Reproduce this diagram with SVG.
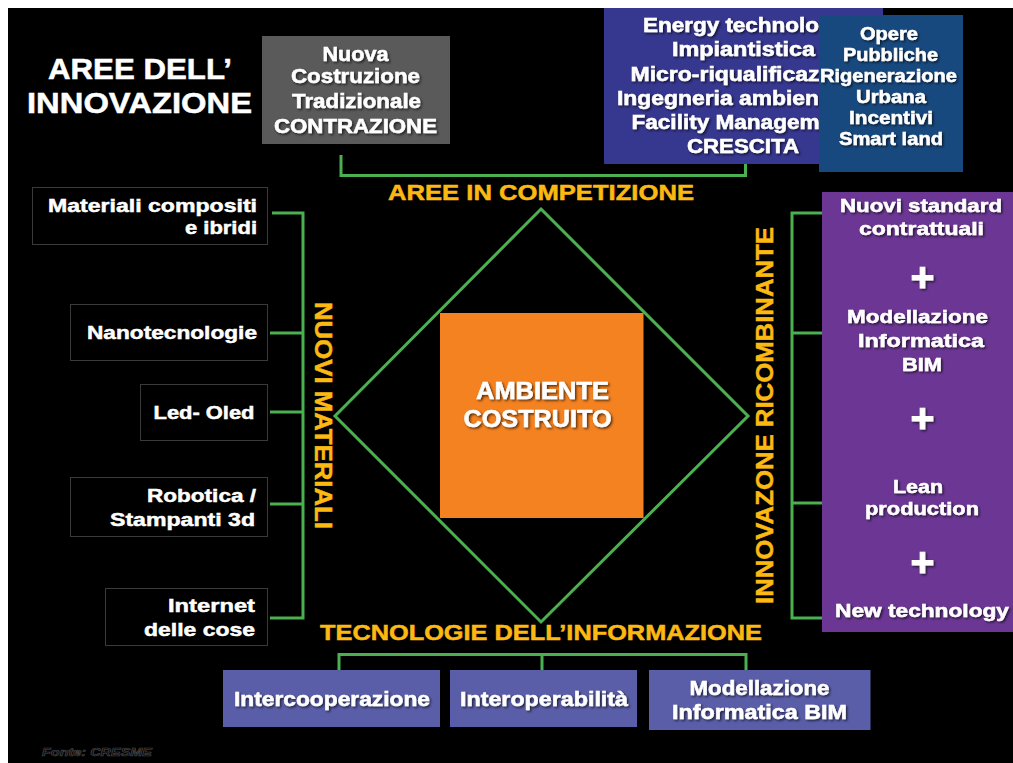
<svg xmlns="http://www.w3.org/2000/svg" width="1013" height="763" viewBox="0 0 1013 763">
<defs>
<filter id="sh" x="-10%" y="-30%" width="120%" height="160%">
<feDropShadow dx="1.5" dy="1.5" stdDeviation="0.8" flood-color="#000" flood-opacity="0.65"/>
</filter>
<clipPath id="clipE"><rect x="604" y="8" width="215" height="156"/></clipPath>
</defs>
<style>
text{font-family:"Liberation Sans",Arial,sans-serif;font-weight:bold;}
.w{fill:#ffffff;stroke:#ffffff;stroke-width:0.5;}
.ws{fill:#ffffff;stroke:#ffffff;stroke-width:0.5;filter:url(#sh);}
.y{fill:#fbb912;stroke:#fbb912;stroke-width:0.5;}
.c{text-anchor:middle;}
.e{text-anchor:end;}
.f21{font-size:21px;}
.f20{font-size:20px;}
.f19{font-size:19px;}
.f23{font-size:23px;}
.lbox{fill:#000;stroke:#3a3a3a;stroke-width:1;}
.conn{fill:none;stroke:#4bb04f;stroke-width:3;stroke-linejoin:miter;}
.plus{font-size:40px;stroke-width:1;}
</style>
<rect x="0" y="0" width="1013" height="763" fill="#ffffff"/>
<rect x="8" y="8" width="1005" height="755" fill="#000000"/>

<g id="title">
<text class="w c" x="140" y="79" font-size="29" textLength="184" lengthAdjust="spacingAndGlyphs">AREE DELL’</text>
<text class="w c" x="139.5" y="113" font-size="29" textLength="225" lengthAdjust="spacingAndGlyphs">INNOVAZIONE</text>
</g>

<g id="connectors">
<polyline class="conn" points="341,155 341,175.5 745.5,175.5 745.5,164"/>
<polygon class="conn" points="541,209 748,416 541,622 335,416" stroke-width="2.5"/>
<polyline class="conn" points="272,213 303,213 303,618 270,618"/>
<line class="conn" x1="270" y1="333" x2="303" y2="333"/>
<line class="conn" x1="270" y1="412" x2="303" y2="412"/>
<line class="conn" x1="270" y1="504" x2="303" y2="504"/>
<polyline class="conn" points="826,213 792,213 792,618 826,618"/>
<line class="conn" x1="792" y1="333" x2="826" y2="333"/>
<line class="conn" x1="792" y1="503" x2="826" y2="503"/>
<polyline class="conn" points="339,670 339,654.5 746,654.5 746,670"/>
<line class="conn" x1="542" y1="654.5" x2="542" y2="670"/>
</g>

<g id="nuova-costruzione">
<rect x="262" y="36" width="188" height="108" fill="#5a5a5a"/>
<text class="ws c f21" x="355.5" y="60.5" textLength="66" lengthAdjust="spacingAndGlyphs">Nuova</text>
<text class="ws c f21" x="355.5" y="83" textLength="129" lengthAdjust="spacingAndGlyphs">Costruzione</text>
<text class="ws c f21" x="356.5" y="107.5" textLength="129" lengthAdjust="spacingAndGlyphs">Tradizionale</text>
<text class="ws c f21" x="355.5" y="132.5" textLength="163" lengthAdjust="spacingAndGlyphs">CONTRAZIONE</text>
</g>

<g id="crescita">
<rect x="604" y="8" width="279" height="156" fill="#36378f"/>
<g clip-path="url(#clipE)">
<text class="ws f20" x="643" y="32" textLength="176" lengthAdjust="spacingAndGlyphs">Energy technolo</text>
<text class="ws f20" x="672" y="56" textLength="143" lengthAdjust="spacingAndGlyphs">Impiantistica</text>
<text class="ws f20" x="630.5" y="80.5" textLength="189" lengthAdjust="spacingAndGlyphs">Micro-riqualificaz</text>
<text class="ws f20" x="617" y="104.5" textLength="202" lengthAdjust="spacingAndGlyphs">Ingegneria ambien</text>
<text class="ws f20" x="631.5" y="128.5" textLength="188" lengthAdjust="spacingAndGlyphs">Facility Managem</text>
</g>
<text class="ws c f20" x="743" y="153" textLength="112" lengthAdjust="spacingAndGlyphs">CRESCITA</text>
</g>

<g id="opere-pubbliche">
<rect x="819" y="15" width="144" height="157" fill="#18497e"/>
<text class="ws c f19" x="889" y="39.5" textLength="58" lengthAdjust="spacingAndGlyphs">Opere</text>
<text class="ws c f19" x="890.5" y="60.5" textLength="95" lengthAdjust="spacingAndGlyphs">Pubbliche</text>
<text class="ws c f19" x="888.5" y="81.5" textLength="137" lengthAdjust="spacingAndGlyphs">Rigenerazione</text>
<text class="ws c f19" x="891" y="103" textLength="70" lengthAdjust="spacingAndGlyphs">Urbana</text>
<text class="ws c f19" x="891" y="124" textLength="84" lengthAdjust="spacingAndGlyphs">Incentivi</text>
<text class="ws c f19" x="891" y="145" textLength="104" lengthAdjust="spacingAndGlyphs">Smart land</text>
</g>

<g id="aree-in-competizione">
<text class="y c" x="541" y="200" font-size="22" textLength="306" lengthAdjust="spacingAndGlyphs">AREE IN COMPETIZIONE</text>
</g>

<g id="materiali-compositi">
<rect class="lbox" x="32.5" y="187.5" width="235" height="57"/>
<text class="w e f19" x="257" y="212" textLength="209" lengthAdjust="spacingAndGlyphs">Materiali compositi</text>
<text class="w e f19" x="257" y="234" textLength="72" lengthAdjust="spacingAndGlyphs">e ibridi</text>
</g>
<g id="nanotecnologie">
<rect class="lbox" x="70.5" y="304.5" width="197" height="56"/>
<text class="w e f19" x="257" y="338.5" textLength="170" lengthAdjust="spacingAndGlyphs">Nanotecnologie</text>
</g>
<g id="led-oled">
<rect class="lbox" x="140.5" y="384.5" width="127" height="56"/>
<text class="w e f19" x="254.5" y="418.5" textLength="101" lengthAdjust="spacingAndGlyphs">Led- Oled</text>
</g>
<g id="robotica">
<rect class="lbox" x="70.5" y="477.5" width="197" height="59"/>
<text class="w e f19" x="256" y="502" textLength="109" lengthAdjust="spacingAndGlyphs">Robotica /</text>
<text class="w e f19" x="255" y="525.5" textLength="145" lengthAdjust="spacingAndGlyphs">Stampanti 3d</text>
</g>
<g id="internet">
<rect class="lbox" x="105.5" y="588.5" width="162" height="57"/>
<text class="w e f19" x="255" y="612" textLength="87" lengthAdjust="spacingAndGlyphs">Internet</text>
<text class="w e f19" x="255" y="636" textLength="111" lengthAdjust="spacingAndGlyphs">delle cose</text>
</g>

<g id="nuovi-materiali">
<text class="y c" transform="translate(315,415.5) rotate(90)" x="0" y="0" font-size="23" textLength="227" lengthAdjust="spacingAndGlyphs">NUOVI MATERIALI</text>
</g>

<g id="ambiente-costruito">
<rect x="440" y="313" width="203.5" height="205" fill="#f58220"/>
<text class="ws c f23" x="542.5" y="399" textLength="133" lengthAdjust="spacingAndGlyphs">AMBIENTE</text>
<text class="ws c f23" x="537.5" y="427" textLength="148" lengthAdjust="spacingAndGlyphs">COSTRUITO</text>
</g>

<g id="innovazione-ricombinante">
<text class="y c" transform="translate(773,415.5) rotate(-90)" x="0" y="0" font-size="24" textLength="377" lengthAdjust="spacingAndGlyphs">INNOVAZONE RICOMBINANTE</text>
</g>

<g id="ricombinante-box">
<rect x="822" y="192" width="191" height="440" fill="#6c3794"/>
<text class="ws c f19" x="921" y="212" textLength="162" lengthAdjust="spacingAndGlyphs">Nuovi standard</text>
<text class="ws c f19" x="921.5" y="235" textLength="125" lengthAdjust="spacingAndGlyphs">contrattuali</text>
<text class="ws c plus" x="922.5" y="290.5" textLength="24" lengthAdjust="spacingAndGlyphs">+</text>
<text class="ws c f19" x="917.5" y="323" textLength="141" lengthAdjust="spacingAndGlyphs">Modellazione</text>
<text class="ws c f19" x="921" y="347" textLength="126" lengthAdjust="spacingAndGlyphs">Informatica</text>
<text class="ws c f19" x="922" y="371" textLength="40" lengthAdjust="spacingAndGlyphs">BIM</text>
<text class="ws c plus" x="922.5" y="431.5" textLength="24" lengthAdjust="spacingAndGlyphs">+</text>
<text class="ws c f19" x="918" y="493" textLength="50" lengthAdjust="spacingAndGlyphs">Lean</text>
<text class="ws c f19" x="922" y="514.5" textLength="114" lengthAdjust="spacingAndGlyphs">production</text>
<text class="ws c plus" x="922.5" y="575.5" textLength="24" lengthAdjust="spacingAndGlyphs">+</text>
<text class="ws c f19" x="922" y="617" textLength="174" lengthAdjust="spacingAndGlyphs">New technology</text>
</g>

<g id="tecnologie-informazione">
<text class="y c" x="541" y="639.5" font-size="22" textLength="442" lengthAdjust="spacingAndGlyphs">TECNOLOGIE  DELL’INFORMAZIONE</text>
</g>

<g id="intercooperazione">
<rect x="223" y="670" width="217" height="57" fill="#5a5ea8"/>
<text class="ws c f21" x="332" y="706" textLength="196" lengthAdjust="spacingAndGlyphs">Intercooperazione</text>
</g>
<g id="interoperabilita">
<rect x="450" y="670" width="187" height="57" fill="#5a5ea8"/>
<text class="ws c f21" x="544" y="706" textLength="168" lengthAdjust="spacingAndGlyphs">Interoperabilità</text>
</g>
<g id="modellazione-bim">
<rect x="649" y="670" width="221.5" height="60" fill="#5a5ea8"/>
<text class="ws c f21" x="759.5" y="695" textLength="140" lengthAdjust="spacingAndGlyphs">Modellazione</text>
<text class="ws c f21" x="759.5" y="719" textLength="175" lengthAdjust="spacingAndGlyphs">Informatica BIM</text>
</g>

<g id="fonte">
<text x="42" y="755.5" font-size="11" font-style="italic" fill="#0a0a0a" stroke="#4a4a4a" stroke-width="0.6" textLength="110" lengthAdjust="spacingAndGlyphs">Fonte: CRESME</text>
</g>
</svg>
